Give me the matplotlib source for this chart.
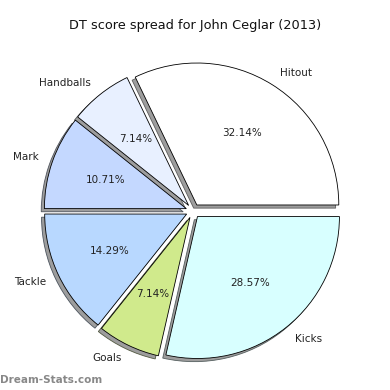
import matplotlib
matplotlib.use("Agg")
import matplotlib.pyplot as plt

categories = ["Hitout", "Handballs", "Mark", "Tackle", "Goals", "Kicks"]
values = [32.14, 7.14, 10.71, 14.29, 7.14, 28.57]
colors = ["#ffffff", "#e8f0ff", "#c4d8ff", "#b8d8ff", "#d0ea8c", "#d8ffff"]
explode = [0.05] * 6

fig = plt.figure(figsize=(3.9, 3.9), dpi=100)
ax = fig.add_axes([0.04, 0.004, 0.91, 0.91])
wedges, texts, autotexts = ax.pie(
    values, labels=categories, colors=colors, explode=explode,
    autopct="%.2f%%", startangle=0, counterclock=True,
    shadow={"ox": -0.016, "oy": -0.016, "facecolor": "#8c8c8c", "alpha": 0.85},
    wedgeprops=dict(edgecolor="black", linewidth=0.6),
    textprops=dict(fontsize=7.5, color="#222222"),
)
ax.set_aspect("equal")
fig.text(0.5, 1 - 25 / 390, "DT score spread for John Ceglar (2013)",
         ha="center", va="center", fontsize=9.3, color="#111111")
fig.text(0.0, 1 - 380 / 390, "Dream-Stats.com", ha="left", va="center",
         fontsize=7.5, color="#888888", fontweight="bold")
fig.savefig("out.png", dpi=100)
